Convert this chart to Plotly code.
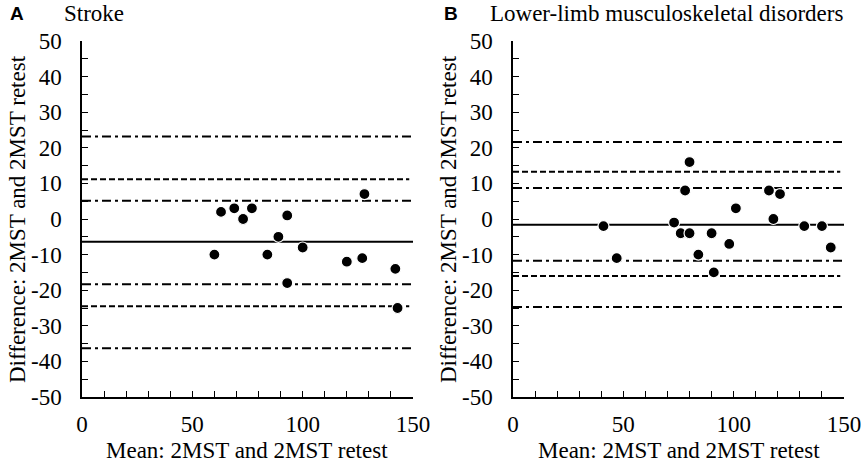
import plotly.graph_objects as go

W, H = 864, 464

# Panel A: Stroke
a_mean = [63, 69, 73, 77, 93, 89, 60, 84, 100, 120, 127, 142, 93, 143, 128]
a_diff = [2, 3, 0, 3, 1, -5, -10, -10, -8, -12, -11, -14, -18, -25, 7]
a_bias = -6.4
a_loa = [11.2, -24.5]
a_ci = [23.2, 5.1, -18.3, -36.3]

# Panel B: Lower-limb musculoskeletal disorders
b_mean = [80, 78, 116, 121, 101, 118, 41, 73, 76, 80, 90, 132, 140, 98, 144, 84, 47, 91]
b_diff = [16, 8, 8, 7, 3, 0, -2, -1, -4, -4, -4, -2, -2, -7, -8, -10, -11, -15]
b_bias = -1.6
b_loa = [13.3, -16.0]
b_ci = [21.6, 8.7, -11.7, -24.7]

titles = ["Stroke", "Lower-limb musculoskeletal disorders"]
letters = ["A", "B"]
x_tickvals = [0, 50, 100, 150]
x_ticktext = ["0", "50", "100", "150"]
y_tickvals = [50, 40, 30, 20, 10, 0, -10, -20, -30, -40, -50]
y_ticktext = ["50", "40", "30", "20", "10", "0", "-10", "-20", "-30", "-40", "-50"]
x_title = "Mean: 2MST and 2MST retest"
y_title = "Difference: 2MST and 2MST retest"

SERIF = "Liberation Serif"
FS = 23

fig = go.Figure()

panels = [
    (a_mean, a_diff, a_bias, a_loa, a_ci, "x", "y"),
    (b_mean, b_diff, b_bias, b_loa, b_ci, "x2", "y2"),
]

DASH = "6px,3px"
DASHDOT = "9px,4px,3px,4px"

for (m, d, bias, loa, ci, xr, yr) in panels:
    for v in ci:
        fig.add_trace(go.Scatter(x=[0, 150], y=[v, v], mode="lines", xaxis=xr, yaxis=yr,
                                 line=dict(color="black", width=2, dash=DASHDOT),
                                 showlegend=False, hoverinfo="skip"))
    for v in loa:
        fig.add_trace(go.Scatter(x=[0, 148.3], y=[v, v], mode="lines", xaxis=xr, yaxis=yr,
                                 line=dict(color="black", width=2, dash=DASH),
                                 showlegend=False, hoverinfo="skip"))
    fig.add_trace(go.Scatter(x=[0, 150], y=[bias, bias], mode="lines", xaxis=xr, yaxis=yr,
                             line=dict(color="black", width=2),
                             showlegend=False, hoverinfo="skip"))
    fig.add_trace(go.Scatter(x=m, y=d, mode="markers", xaxis=xr, yaxis=yr,
                             marker=dict(color="black", size=11, line=dict(color="white", width=1.2)),
                             showlegend=False))

def px_x(p):
    return p / W

def px_y(p):
    return 1 - p / H

xax = dict(range=[0, 150], showgrid=False, zeroline=False, showline=True,
           linecolor="black", linewidth=1.5, ticks="inside", ticklen=6, tickwidth=1.2,
           tickcolor="black", tickmode="array", tickvals=x_tickvals, ticktext=x_ticktext,
           minor=dict(ticks="inside", tick0=0, dtick=10, ticklen=6, tickwidth=1.2, tickcolor="black", showgrid=False),
           tickfont=dict(family=SERIF, size=FS, color="black"), ticklabelstandoff=6,
           automargin=False, fixedrange=True)
yax = dict(range=[-50, 50], showgrid=False, zeroline=False, showline=True,
           linecolor="black", linewidth=1.5, ticks="inside", ticklen=6, tickwidth=1.2,
           tickcolor="black", tickmode="array", tickvals=y_tickvals, ticktext=y_ticktext,
           minor=dict(ticks="inside", tick0=0, dtick=5, ticklen=6, tickwidth=1.2, tickcolor="black", showgrid=False),
           tickfont=dict(family=SERIF, size=FS, color="black"), ticklabelstandoff=14,
           domain=[px_y(397), px_y(41)], automargin=False, fixedrange=True)

fig.update_layout(
    width=W, height=H, margin=dict(l=0, r=0, t=0, b=0, pad=0, autoexpand=False),
    font=dict(family=SERIF, size=FS, color="black"),
    paper_bgcolor="white", plot_bgcolor="white", showlegend=False,
    xaxis=dict(xax, domain=[px_x(82), px_x(413)], anchor="y"),
    yaxis=dict(yax, anchor="x"),
    xaxis2=dict(xax, domain=[px_x(513), px_x(844)], anchor="y2"),
    yaxis2=dict(yax, anchor="x2"),
)

ann = []
for i, (x0, xa) in enumerate([(82, 413), (513, 844)]):
    cx = (x0 + xa) / 2
    ann.append(dict(text=x_title, x=px_x(cx), y=px_y(450), xref="paper", yref="paper",
                    showarrow=False, xanchor="center", yanchor="middle",
                    font=dict(family=SERIF, size=FS, color="black")))
    ann.append(dict(text=y_title, x=px_x(x0 - 65), y=px_y(219), xref="paper", yref="paper",
                    showarrow=False, xanchor="center", yanchor="middle", textangle=-90,
                    font=dict(family=SERIF, size=FS, color="black")))
for letter, lx, title, tx in [(letters[0], 8, titles[0], 62), (letters[1], 442, titles[1], 488)]:
    ann.append(dict(text="<b>" + letter + "</b>", x=px_x(lx), y=px_y(13), xref="paper", yref="paper",
                    showarrow=False, xanchor="left", yanchor="middle",
                    font=dict(family="Liberation Sans", size=19, color="black")))
    ann.append(dict(text=title, x=px_x(tx), y=px_y(13), xref="paper", yref="paper", showarrow=False,
                    xanchor="left", yanchor="middle", font=dict(family=SERIF, size=FS, color="black")))
fig.update_layout(annotations=ann)

fig.write_html("out.html", config={"displayModeBar": False},
               post_script="document.body.style.margin='0';document.body.style.overflow='hidden';")
